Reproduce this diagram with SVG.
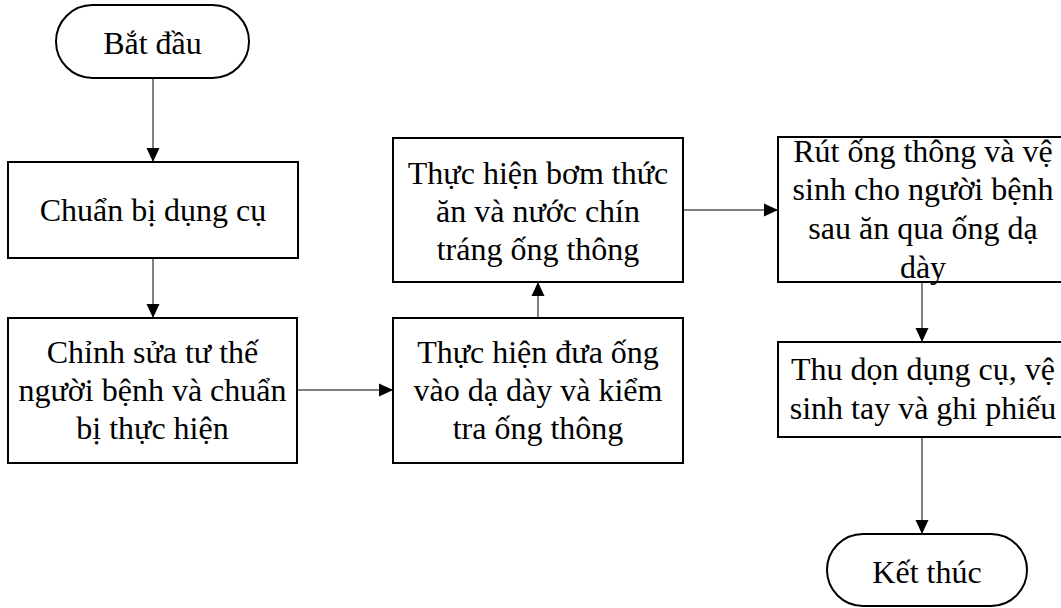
<svg xmlns="http://www.w3.org/2000/svg" width="1061" height="608" viewBox="0 0 1061 608">
  <style>
    .box { fill: #ffffff; stroke: #000000; stroke-width: 2; }
    .lbl { font-family: "Liberation Serif", "Times New Roman", serif; font-size: 32px; fill: #000000; text-anchor: middle; }
    .edge { fill: none; stroke: #000000; stroke-width: 1; }
  </style>
  <defs>
    <marker id="arrow" markerUnits="userSpaceOnUse" markerWidth="15" markerHeight="15" viewBox="0 0 15 15" refX="14" refY="7.5" orient="auto">
      <path d="M0,1 L14,7.5 L0,14 Z" fill="#000000"/>
    </marker>
  </defs>
  <rect width="1061" height="608" fill="#ffffff"/>

  <g id="connectors">
    <line class="edge" x1="153" y1="78" x2="153" y2="162" marker-end="url(#arrow)"/>
    <line class="edge" x1="153" y1="258" x2="153" y2="318" marker-end="url(#arrow)"/>
    <line class="edge" x1="297" y1="390" x2="393" y2="390" marker-end="url(#arrow)"/>
    <line class="edge" x1="538" y1="318" x2="538" y2="282" marker-end="url(#arrow)"/>
    <line class="edge" x1="683" y1="210" x2="778" y2="210" marker-end="url(#arrow)"/>
    <line class="edge" x1="922" y1="282" x2="922" y2="342" marker-end="url(#arrow)"/>
    <line class="edge" x1="922" y1="437" x2="922" y2="534" marker-end="url(#arrow)"/>
  </g>

  <g id="start">
    <rect class="box" x="56" y="5" width="193" height="73" rx="36.5" ry="36.5"/>
    <text class="lbl" x="152.5" y="54">Bắt đầu</text>
  </g>

  <g id="prepare-tools">
    <rect class="box" x="8" y="162" width="290" height="96"/>
    <text class="lbl" x="153" y="221">Chuẩn bị dụng cụ</text>
  </g>

  <g id="position-patient">
    <rect class="box" x="8" y="318" width="289" height="145"/>
    <text class="lbl" x="152.5" y="363">Chỉnh sửa tư thế</text>
    <text class="lbl" x="152.5" y="401">người bệnh và chuẩn</text>
    <text class="lbl" x="152.5" y="439">bị thực hiện</text>
  </g>

  <g id="insert-tube">
    <rect class="box" x="393" y="318" width="290" height="145"/>
    <text class="lbl" x="538" y="363">Thực hiện đưa ống</text>
    <text class="lbl" x="538" y="401">vào dạ dày và kiểm</text>
    <text class="lbl" x="538" y="439">tra ống thông</text>
  </g>

  <g id="feed">
    <rect class="box" x="393" y="138" width="290" height="144"/>
    <text class="lbl" x="538" y="184">Thực hiện bơm thức</text>
    <text class="lbl" x="538" y="222">ăn và nước chín</text>
    <text class="lbl" x="538" y="260">tráng ống thông</text>
  </g>

  <g id="remove-tube">
    <rect class="box" x="778" y="137" width="290" height="145"/>
    <text class="lbl" x="923" y="162">Rút ống thông và vệ</text>
    <text class="lbl" x="923" y="200">sinh cho người bệnh</text>
    <text class="lbl" x="923" y="239">sau ăn qua ống dạ</text>
    <text class="lbl" x="923" y="278">dày</text>
  </g>

  <g id="clean-up">
    <rect class="box" x="778" y="342" width="290" height="95"/>
    <text class="lbl" x="923" y="380">Thu dọn dụng cụ, vệ</text>
    <text class="lbl" x="923" y="419">sinh tay và ghi phiếu</text>
  </g>

  <g id="end">
    <rect class="box" x="827" y="534" width="200" height="72" rx="36" ry="36"/>
    <text class="lbl" x="927" y="583">Kết thúc</text>
  </g>
</svg>
